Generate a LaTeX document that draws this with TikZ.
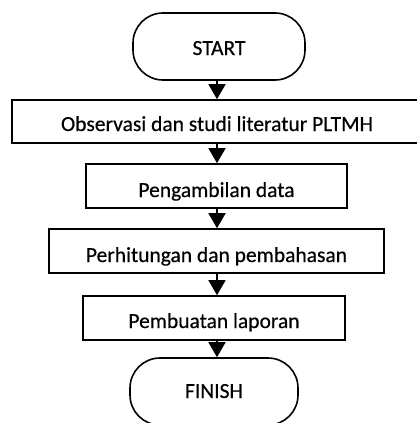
\documentclass[tikz,border=0pt]{standalone}
\usepackage{fontspec}
\setmainfont{Carlito}[FakeBold=0.4]
\usetikzlibrary{arrows.meta}
\newcommand{\lowered}[2]{\raisebox{-#1}[0pt][0pt]{#2}}
\begin{document}
\begin{tikzpicture}[x=1pt,y=-1pt,
  proc/.style={draw, line width=1.6pt, minimum height=44pt, inner sep=0pt, font=\fontsize{21.5}{24}\selectfont},
  term/.style={draw, line width=1.6pt, rounded corners=30pt, minimum height=67pt, inner sep=0pt, font=\fontsize{21.5}{24}\selectfont},
  arr/.style={line width=1.6pt, -{Triangle[width=17pt,length=15pt]}}]
\useasboundingbox (0,0) rectangle (417,423);
\clip (0,0) rectangle (417,423);
\node[term, minimum width=172pt] (start) at (219,46.5) {\lowered{8.5pt}{START}};
\node[proc, minimum width=410pt, minimum height=43pt] (b1) at (217,121.5) {\lowered{9.5pt}{Observasi dan studi literatur PLTMH}};
\node[proc, minimum width=261pt] (b2) at (216.5,186) {\lowered{11pt}{Pengambilan data}};
\node[proc, minimum width=335pt] (b3) at (216.5,251) {\lowered{11pt}{Perhitungan dan pembahasan}};
\node[proc, minimum width=262pt] (b4) at (214,318) {\lowered{10pt}{Pembuatan laporan}};
\node[term, minimum width=168pt] (finish) at (214,391.5) {\lowered{6.5pt}{FINISH}};
\coordinate (ax) at (217,0);
\draw[arr] (start.south -| ax) -- (b1.north -| ax);
\draw[arr] (b1.south -| ax) -- (b2.north -| ax);
\draw[arr] (b2.south -| ax) -- (b3.north -| ax);
\draw[arr] (b3.south -| ax) -- (b4.north -| ax);
\draw[arr] (b4.south -| ax) -- (finish.north -| ax);
\end{tikzpicture}
\end{document}
